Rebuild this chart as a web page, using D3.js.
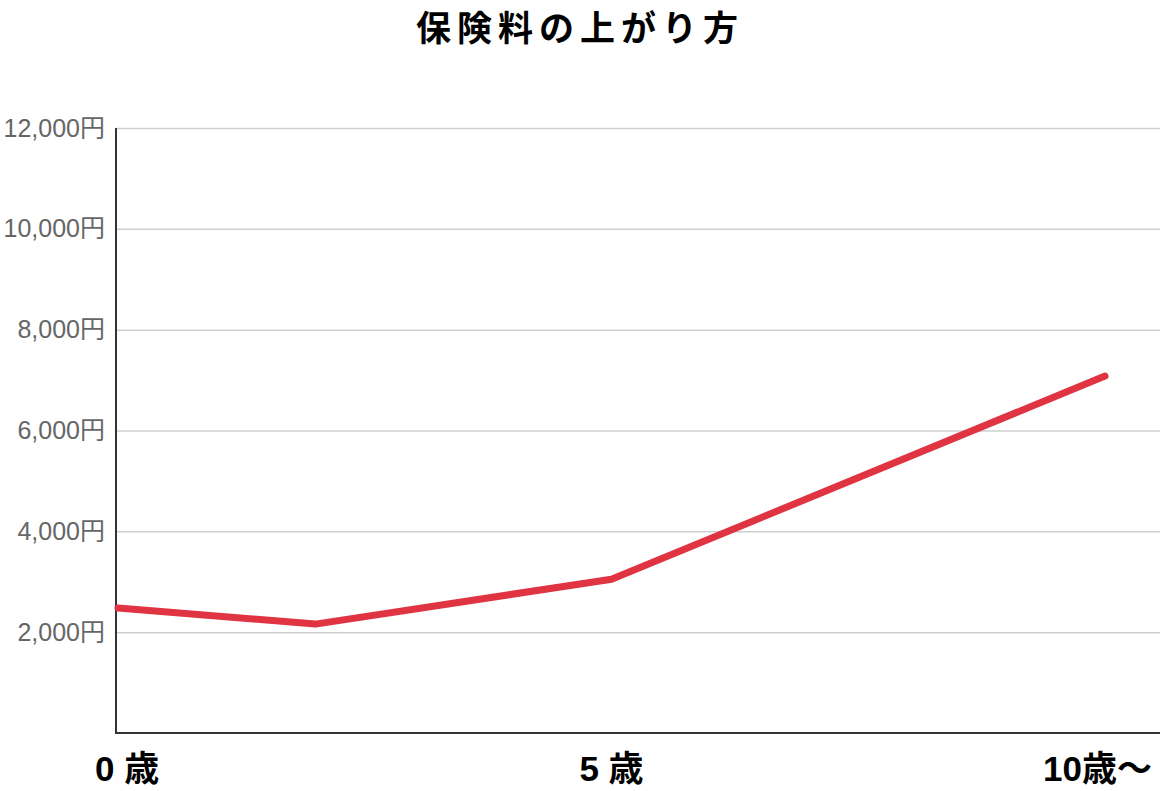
<!DOCTYPE html>
<html>
<head>
<meta charset="utf-8">
<script src="https://cdn.jsdelivr.net/npm/d3@7"></script>
<style>
  body{margin:0;background:#fff;}
  svg{display:block;}
</style>
</head>
<body>
<div id="chart"></div>
<script>
// data
var ages = [0, 2, 5, 10];
var premiums = [2480, 2160, 3050, 7080];
var yTicks = [2000, 4000, 6000, 8000, 10000, 12000];
var xLabels = [{age:0, text:"0 歳"}, {age:5, text:"5 歳"}, {age:10, text:"10歳〜"}];
var title = "保険料の上がり方";

var width = 1160, height = 791;
var plotLeft = 116, plotRight = 1160, plotTop = 128, plotBottom = 733;

var svg = d3.select("#chart").append("svg")
  .attr("width", width)
  .attr("height", height);

var x = d3.scaleLinear().domain([0, 10]).range([118, 1105]);
var y = d3.scaleLinear().domain([0, 12000]).range([plotBottom, plotTop]);

// gridlines + tick labels
var yAxis = d3.axisLeft(y)
  .tickValues(yTicks)
  .tickSize(-(plotRight - plotLeft))
  .tickPadding(10)
  .tickFormat(function(d){ return d3.format(",")(d) + "円"; });

var gy = svg.append("g")
  .attr("transform", "translate(" + plotLeft + ",0)")
  .call(yAxis);
gy.select(".domain").remove();
gy.selectAll(".tick line").attr("stroke", "#cfcfcf").attr("stroke-width", 1.5);
gy.selectAll(".tick text")
  .attr("x", -11)
  .attr("fill", "#666")
  .style("font-family", "'Liberation Sans', 'Noto Sans CJK JP', sans-serif")
  .style("font-size", "25px");

// axis lines
svg.append("line")
  .attr("x1", plotLeft).attr("x2", plotLeft).attr("y1", plotTop).attr("y2", plotBottom + 1)
  .attr("stroke", "#333").attr("stroke-width", 2);
svg.append("line")
  .attr("x1", plotLeft - 1).attr("x2", plotRight).attr("y1", plotBottom).attr("y2", plotBottom)
  .attr("stroke", "#333").attr("stroke-width", 2);

// the line
var line = d3.line()
  .x(function(d){ return x(d[0]); })
  .y(function(d){ return y(d[1]); });

svg.append("path")
  .datum(ages.map(function(a, i){ return [a, premiums[i]]; }))
  .attr("d", line)
  .attr("fill", "none")
  .attr("stroke", "#e03442")
  .attr("stroke-width", 7)
  .attr("stroke-linecap", "round")
  .attr("stroke-linejoin", "round");

// x labels
var anchors = ["start", "middle", "end"];
var offsets = [-23, 0, 47];
svg.selectAll(".xlab")
  .data(xLabels)
  .enter().append("text")
  .attr("class", "xlab")
  .attr("x", function(d, i){ return x(d.age) + offsets[i]; })
  .attr("y", 781)
  .attr("text-anchor", function(d, i){ return anchors[i]; })
  .attr("fill", "#000")
  .style("font-family", "'Liberation Sans', 'Noto Sans CJK JP', sans-serif")
  .style("font-weight", "bold")
  .style("font-size", "35px")
  .text(function(d){ return d.text; });

// title
svg.append("text")
  .attr("x", 580)
  .attr("y", 41)
  .attr("text-anchor", "middle")
  .style("font-family", "'Noto Sans CJK JP', sans-serif")
  .style("font-weight", "bold")
  .style("font-size", "35px")
  .style("letter-spacing", "6px")
  .text(title);
</script>
</body>
</html>
